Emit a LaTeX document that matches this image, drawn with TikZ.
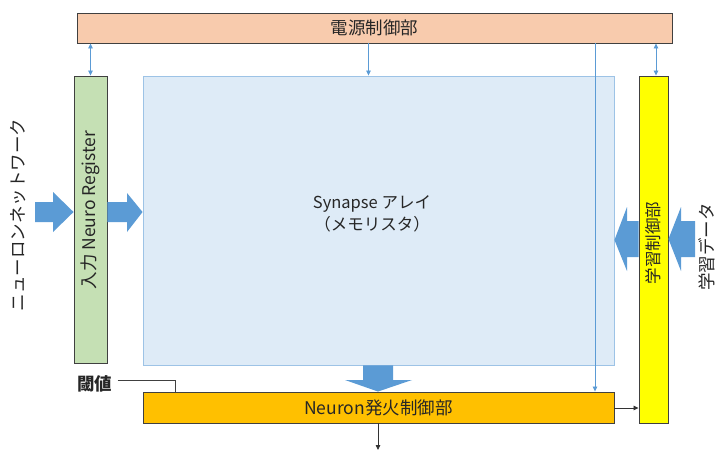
\documentclass[tikz,border=0pt]{standalone}
\usepackage{fontspec}
\setmainfont{Noto Sans CJK JP}
\usetikzlibrary{arrows.meta}
\definecolor{pwrc}{HTML}{F8CBAD}
\definecolor{grnc}{HTML}{C5E0B4}
\definecolor{synf}{HTML}{DEEBF7}
\definecolor{synd}{HTML}{9DC3E6}
\definecolor{yelc}{HTML}{FFFF00}
\definecolor{neuc}{HTML}{FFC000}
\definecolor{blu}{HTML}{5B9BD5}
\definecolor{txt}{HTML}{262626}
\begin{document}
\begin{tikzpicture}[x=1pt,y=-1pt,
  box/.style={draw=black!75, line width=0.9pt, inner sep=0pt},
  lbl/.style={text=txt, inner sep=0pt, font=\fontsize{17.5}{19}\selectfont},
  biglbl/.style={text=txt, inner sep=0pt, font=\fontsize{17.5}{19}\selectfont},
  blk/.style={fill=blu, draw=none},
  thinconn/.style={draw=blu, line width=0.8pt},
  tipb/.style={-{Triangle[length=5pt,width=4.5pt]}},
  tipbb/.style={{Triangle[length=5pt,width=4.5pt]}-{Triangle[length=5pt,width=4.5pt]}},
  blackconn/.style={draw=black!80, line width=0.8pt, -{Triangle[length=5pt,width=4.5pt]}}
]
\useasboundingbox (0,0) rectangle (716,451);

% boxes
\node[box, fill=pwrc, minimum width=595pt, minimum height=30pt, lbl] (pwr) at (374.5,28) {電源制御部};
\node[box, fill=grnc, minimum width=33pt, minimum height=287pt] (grn) at (90.5,219.5) {};
\node[box, draw=synd, fill=synf, minimum width=471pt, minimum height=289pt] (syn) at (378.5,220.5) {};
\node[box, fill=yelc, minimum width=29pt, minimum height=347pt] (yel) at (653.5,249.5) {};
\node[box, fill=neuc, minimum width=471pt, minimum height=31pt, lbl] (neu) at (378.5,407.5) {Neuron発火制御部};

% box labels
\node[lbl, rotate=90] (grntxt) at (90.5,210) {入力 Neuro Register};
\node[lbl, rotate=90, font=\fontsize{16.5}{18}\selectfont] (yeltxt) at (653.5,243) {学習制御部};
\node[lbl, align=center, font=\fontsize{16.5}{22}\selectfont] (syntxt) at (372,214) {Synapse アレイ\\（メモリスタ）};

% outside labels
\node[biglbl, rotate=90] (nn) at (18,215) {ニューロンネットワーク};
\node[biglbl, rotate=90] (data) at (707,247) {学習データ};
\node[biglbl, font=\bfseries\fontsize{17.5}{19}\selectfont] (thr) at (95,384) {閾値};

% block arrows
\fill[blk] (35,202) -- (53,202) -- (53,192) -- (grn.west |- 0,212) -- (53,232) -- (53,222) -- (35,222) -- cycle;
\fill[blk] (grn.east |- 0,202) -- (127,202) -- (127,193) -- (syn.west |- 0,212) -- (127,232) -- (127,222) -- (grn.east |- 0,222) -- cycle;
\fill[blk] (363,0 |- syn.south) -- (363,380) -- (345,380) -- (378,0 |- neu.north) -- (412,380) -- (393,380) -- (393,0 |- syn.south) -- cycle;
\fill[blk] (yel.west |- 0,221) -- (627,221) -- (627,207) -- (syn.east |- 0,240) -- (627,271) -- (627,257) -- (yel.west |- 0,257) -- cycle;
\fill[blk] (695,221) -- (681,221) -- (681,207) -- (yel.east |- 0,239) -- (681,271) -- (681,257) -- (695,257) -- cycle;

% thin connectors
\draw[thinconn, tipbb] (pwr.south -| grn.north) -- (grn.north);
\draw[thinconn, tipb] ([xshift=-10pt]pwr.south -| syn.north) -- ([xshift=-10pt]syn.north);
\coordinate (vl) at (595,0);
\draw[thinconn, tipb] (pwr.south -| vl) -- (neu.north -| vl);
\coordinate (yl) at (656,0);
\draw[thinconn, tipbb] (pwr.south -| yl) -- (yel.north -| yl);

% black connectors
\draw[blackconn] (neu.east |- 0,408) -- (yel.west |- 0,408);
\coordinate (out) at (378,450);
\draw[blackconn] (neu.south -| out) -- (out);
\coordinate (thrc) at (175,380);
\draw[draw=black!75, line width=0.8pt] (thr.east |- thrc) ++(5,0) -- (thrc) -- (neu.north -| thrc);
\end{tikzpicture}
\end{document}
